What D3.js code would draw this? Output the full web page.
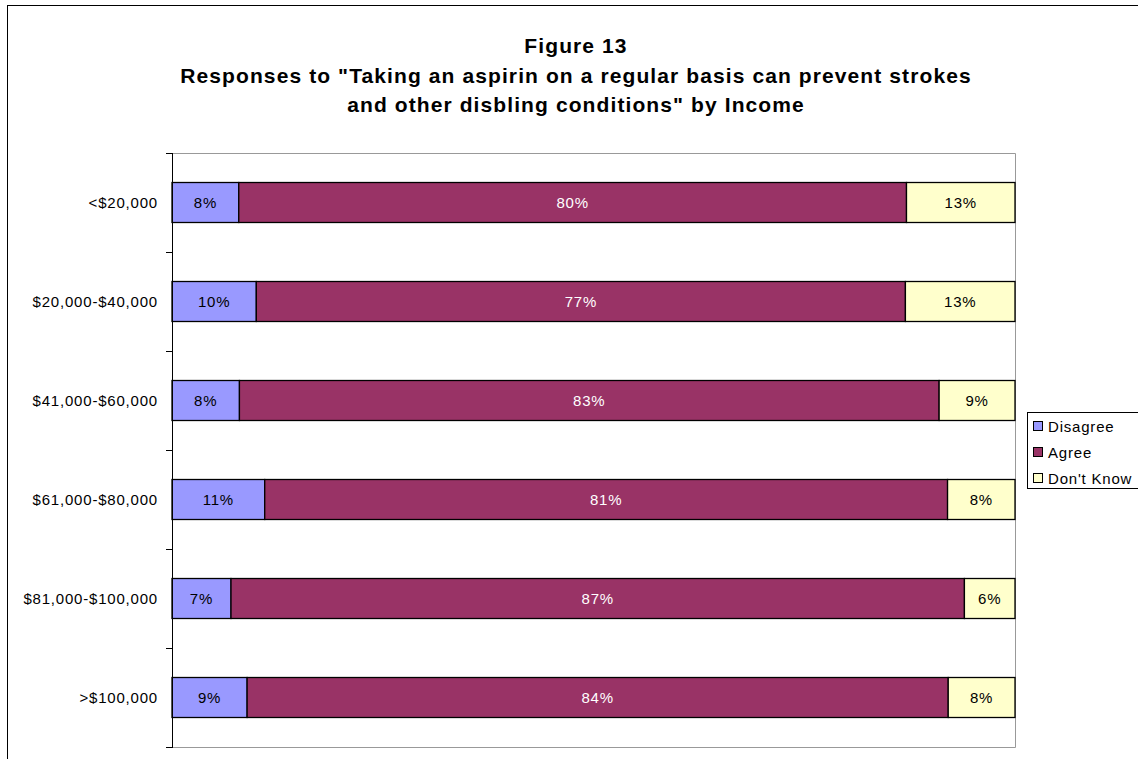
<!DOCTYPE html>
<html>
<head>
<meta charset="utf-8">
<script src="https://cdn.jsdelivr.net/npm/d3@7"></script>
<style>
  html, body { margin: 0; padding: 0; background: #fff; }
  svg { display: block; font-family: "Liberation Sans", Arial, sans-serif; }
</style>
</head>
<body>
<svg id="chart" width="1138" height="759"></svg>
<script>
// Income groups, top to bottom
const categories = ["<$20,000", "$20,000-$40,000", "$41,000-$60,000", "$61,000-$80,000", "$81,000-$100,000", ">$100,000"];
// Percent of respondents per answer
const disagree = [8, 10, 8, 11, 7, 9];
const agree = [80, 77, 83, 81, 87, 84];
const dontKnow = [13, 13, 9, 8, 6, 8];

const seriesNames = ["Disagree", "Agree", "Don't Know"];
const seriesColors = ["#9999FF", "#993366", "#FFFFCC"];
const labelColors = ["#000", "#fff", "#000"];
const titleLines = ["Figure 13", "Responses to \"Taking an aspirin on a regular basis can prevent strokes", "and other disbling conditions\" by Income"];

const rows = categories.map((c, i) => ({ cat: c, "Disagree": disagree[i], "Agree": agree[i], "Don't Know": dontKnow[i] }));

const svg = d3.select("#chart");

// Outer chart frame
svg.append("rect").attr("x", 7.5).attr("y", 5.5).attr("width", 1140).attr("height", 770)
  .attr("fill", "#fff").attr("stroke", "#000").attr("stroke-width", 1);

// Title
const title = svg.append("g").attr("font-weight", "bold").attr("font-size", 21)
  .attr("letter-spacing", "1.1px").attr("text-anchor", "middle");
title.selectAll("text").data(titleLines).join("text")
  .attr("x", 576).attr("y", (d, i) => 53 + i * 29.5).text(d => d);

// Plot area
const plot = { left: 172, right: 1015, top: 153, bottom: 747 };

const x = d3.scaleLinear().domain([0, 1]).range([plot.left, plot.right]);
const y = d3.scaleBand().domain(categories).range([plot.top, plot.bottom]).paddingInner(0.596).paddingOuter(0.298);

const stacked = d3.stack().keys(seriesNames).offset(d3.stackOffsetExpand)(rows);

// Plot frame: grey on top/right/bottom
svg.append("path")
  .attr("d", `M${plot.left},${plot.top + 0.5}H${plot.right + 0.5}V${plot.bottom + 0.5}H${plot.left}`)
  .attr("fill", "none").attr("stroke", "#999").attr("stroke-width", 1);

// Bars
const layers = svg.append("g").selectAll("g").data(stacked).join("g")
  .attr("fill", (d, i) => seriesColors[i]);

layers.selectAll("rect").data(d => d).join("rect")
  .attr("x", d => x(d[0]))
  .attr("y", d => y(d.data.cat))
  .attr("width", d => x(d[1]) - x(d[0]))
  .attr("height", y.bandwidth())
  .attr("stroke", "#000").attr("stroke-width", 1.3);

// Value labels
layers.each(function (layer, li) {
  d3.select(this).selectAll("text").data(layer).join("text")
    .attr("x", d => (x(d[0]) + x(d[1])) / 2)
    .attr("y", d => y(d.data.cat) + y.bandwidth() / 2)
    .attr("dy", "0.35em")
    .attr("text-anchor", "middle")
    .attr("font-size", 15)
    .attr("letter-spacing", "0.8px")
    .attr("fill", labelColors[li])
    .text(d => d.data[layer.key] + "%");
});

// Category axis with ticks on band boundaries
const yAxisG = svg.append("g");
yAxisG.append("line").attr("x1", plot.left + 0.5).attr("x2", plot.left + 0.5)
  .attr("y1", plot.top).attr("y2", plot.bottom + 1).attr("stroke", "#000");
const step = (plot.bottom - plot.top) / categories.length;
yAxisG.selectAll("line.tick").data(d3.range(categories.length + 1)).join("line")
  .attr("class", "tick")
  .attr("x1", plot.left - 6).attr("x2", plot.left)
  .attr("y1", i => plot.top + i * step + 0.5).attr("y2", i => plot.top + i * step + 0.5)
  .attr("stroke", "#000");
yAxisG.selectAll("text").data(categories).join("text")
  .attr("x", 158)
  .attr("y", d => y(d) + y.bandwidth() / 2)
  .attr("dy", "0.35em")
  .attr("text-anchor", "end")
  .attr("font-size", 15)
  .attr("letter-spacing", "0.8px")
  .text(d => d);

// Legend
const legend = svg.append("g");
legend.append("rect").attr("x", 1027.5).attr("y", 412.5).attr("width", 120).attr("height", 76)
  .attr("fill", "#fff").attr("stroke", "#000");
const item = legend.selectAll("g.item").data(seriesNames).join("g")
  .attr("class", "item")
  .attr("transform", (d, i) => `translate(1033, ${427 + i * 26})`);
item.append("rect").attr("x", 0.5).attr("y", -5.5).attr("width", 9).attr("height", 9)
  .attr("fill", (d, i) => seriesColors[i]).attr("stroke", "#000");
item.append("text").attr("x", 15).attr("dy", "0.35em").attr("font-size", 15)
  .attr("letter-spacing", "0.8px").text(d => d);
</script>
</body>
</html>
